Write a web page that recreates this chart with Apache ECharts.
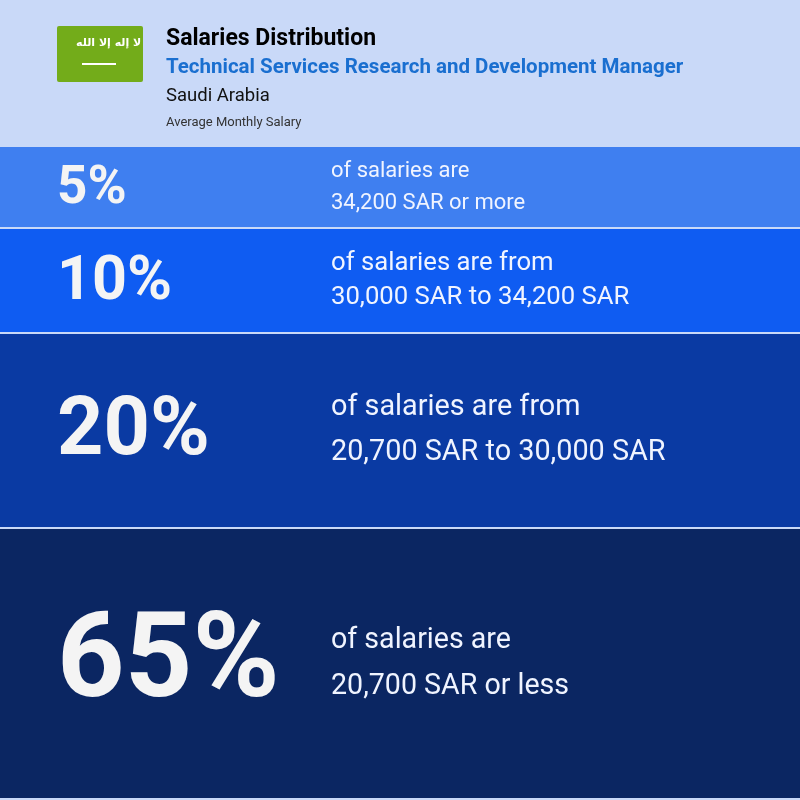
<!DOCTYPE html>
<html>
<head>
<meta charset="utf-8">
<script src="https://cdn.jsdelivr.net/npm/echarts@6/dist/echarts.min.js"></script>
<style>html,body{margin:0;padding:0;background:#c9d9f8;}#main{width:800px;height:800px;}</style>
</head>
<body>
<div id="main"></div>
<script>
var percents = ['5%', '10%', '20%', '65%'];
var lines1 = ['of salaries are', 'of salaries are from', 'of salaries are from', 'of salaries are'];
var lines2 = ['34,200 SAR or more', '30,000 SAR to 34,200 SAR', '20,700 SAR to 30,000 SAR', '20,700 SAR or less'];
// display height of each band
var bandSizes = [82, 105, 195, 271];
var bandColors = ['#3f7ff0', '#0f5cf2', '#0a3aa3', '#0b2662'];
var pctSizes = [53, 61, 81, 118];
var txtSizes = [22, 25.7, 28.8, 28.6];
var lineGaps = [32, 34, 45, 46];

var starts = [];
var acc = 0;
for (var i = 0; i < bandSizes.length; i++) { starts.push(acc); acc += bandSizes[i]; }
var total = acc;

var data = [];
for (var i = 0; i < percents.length; i++) {
    data.push([starts[i], starts[i] + bandSizes[i], i]);
}

var myChart = echarts.init(document.getElementById('main'));
var option = {
    backgroundColor: '#c9d9f8',
    grid: {left: 0, right: 0, top: 147, bottom: 0},
    xAxis: {type: 'value', min: 0, max: 1, show: false},
    yAxis: {type: 'value', min: 0, max: total, inverse: true, show: false},
    graphic: [
        {type: 'rect', left: 57, top: 26, shape: {width: 86, height: 56, r: 2}, style: {fill: '#73ac1a'}},
        {type: 'text', left: 76, top: 38, style: {text: 'لا إله إلا الله', fill: '#fff', font: 'bold 11px "DejaVu Sans"'}},
        {type: 'rect', left: 82, top: 63, shape: {width: 34, height: 2}, style: {fill: '#fff'}},
        {type: 'text', left: 166, top: 28, style: {text: 'Salaries Distribution', fill: '#000', font: 'bold 23px Roboto'}},
        {type: 'text', left: 166, top: 57, style: {text: 'Technical Services Research and Development Manager', fill: '#1a6fd0', font: 'bold 20.5px Roboto'}},
        {type: 'text', left: 166, top: 87, style: {text: 'Saudi Arabia', fill: '#111', font: '18.5px Roboto'}},
        {type: 'text', left: 166, top: 116, style: {text: 'Average Monthly Salary', fill: '#333', font: '13px Roboto'}}
    ],
    series: [{
        type: 'custom',
        data: data,
        encode: {y: [0, 1]},
        renderItem: function (params, api) {
            var idx = api.value(2);
            var p0 = api.coord([0, api.value(0)]);
            var p1 = api.coord([1, api.value(1)]);
            var h = p1[1] - p0[1] - 2;
            var cy = p0[1] + h / 2;
            var ts = txtSizes[idx];
            var g = lineGaps[idx];
            return {
                type: 'group',
                children: [
                    {type: 'rect', shape: {x: p0[0], y: p0[1], width: p1[0] - p0[0], height: h}, style: {fill: bandColors[idx]}},
                    {type: 'text', style: {x: 57, y: cy + 3, text: percents[idx], fill: '#f4f4f4', font: 'bold ' + pctSizes[idx] + 'px Roboto', verticalAlign: 'middle'}},
                    {type: 'text', style: {x: 331, y: cy - g / 2, text: lines1[idx], fill: '#f0f4ff', font: ts + 'px Roboto', verticalAlign: 'middle'}},
                    {type: 'text', style: {x: 331, y: cy + g / 2, text: lines2[idx], fill: '#f0f4ff', font: ts + 'px Roboto', verticalAlign: 'middle'}}
                ]
            };
        }
    }]
};
myChart.setOption(option);
</script>
</body>
</html>
